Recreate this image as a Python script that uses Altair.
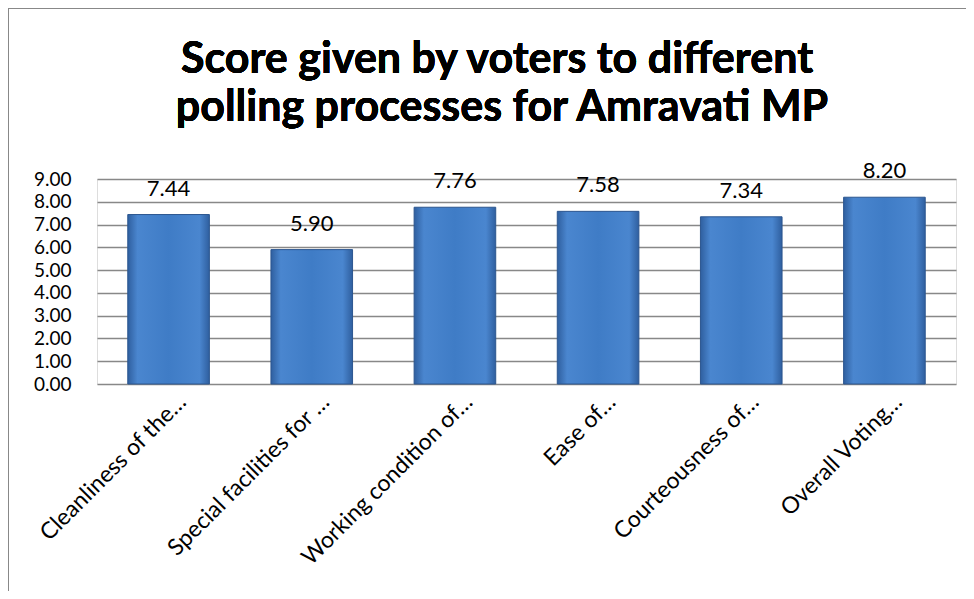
import altair as alt
import pandas as pd

categories = ["Cleanliness of the…", "Special facilities for …", "Working condition of…",
              "Ease of…", "Courteousness of…", "Overall Voting…"]
scores = [7.44, 5.90, 7.76, 7.58, 7.34, 8.20]
y_ticks = [0, 1, 2, 3, 4, 5, 6, 7, 8, 9]
title_lines = ["Score given by voters to different", "polling processes for Amravati MP"]

df = pd.DataFrame({"cat": categories, "score": scores})

FONT = "Lato"

x_enc = alt.X("cat:N", sort=categories,
              scale=alt.Scale(paddingInner=0.43, paddingOuter=0.215),
              axis=alt.Axis(title=None, labelAngle=-45, labelAlign="right", labelBaseline="middle",
                            labelFontSize=23, labelFont=FONT, labelColor="#000", labelOffset=14,
                            labelPadding=14, ticks=False, domain=False, labelLimit=400))
y_enc = alt.Y("score:Q", scale=alt.Scale(domain=[0, 9], nice=False),
              axis=alt.Axis(title=None, values=y_ticks, format=".2f", labelFontSize=19,
                            labelFont=FONT, labelColor="#000", ticks=False, domain=False,
                            gridColor="#888888", gridWidth=1.3, labelPadding=26,
                            labelOverlap=False))

bars = alt.Chart(df).mark_bar(
    color=alt.Gradient(gradient="linear", x1=0, x2=1, y1=0, y2=0,
                       stops=[alt.GradientStop(color="#2f5f9f", offset=0),
                              alt.GradientStop(color="#4a86cf", offset=0.12),
                              alt.GradientStop(color="#3f7cc6", offset=0.5),
                              alt.GradientStop(color="#4a86cf", offset=0.88),
                              alt.GradientStop(color="#2f5f9f", offset=1)]),
    stroke="#2c568f", strokeWidth=1
).encode(x=x_enc, y=y_enc)

labels = alt.Chart(df).mark_text(
    fontSize=22, font=FONT, color="#000", baseline="middle", dy=-26
).encode(x=x_enc, y=y_enc, text=alt.Text("score:Q", format=".2f"))

title1 = alt.Chart(df).mark_text(
    text=title_lines[0], fontSize=43, font=FONT, fontWeight="bold", color="#000",
    align="center", baseline="alphabetic"
).encode(x=alt.value(400), y=alt.value(-106))

title2 = alt.Chart(df).mark_text(
    text=title_lines[1], fontSize=43, font=FONT, fontWeight="bold", color="#000",
    align="center", baseline="alphabetic"
).encode(x=alt.value(405), y=alt.value(-58))

frame = alt.Chart(df).mark_rect(fill=None, stroke="#888888", strokeWidth=2).encode(
    x=alt.value(-89), x2=alt.value(900), y=alt.value(-171), y2=alt.value(440))

chart = alt.layer(frame, bars, labels, title1, title2).properties(
    width=859, height=205,
    padding={"left": 89, "top": 171, "right": 10, "bottom": 207},
    autosize=alt.AutoSizeParams(type="none"),
).resolve_axis(y="shared").configure_view(stroke="#888888", strokeWidth=1.3).configure(background="white")

chart.save("out.html", embed_options={"renderer": "svg", "actions": False})
